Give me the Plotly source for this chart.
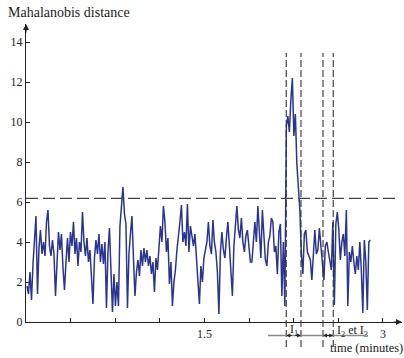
import plotly.graph_objects as go

# ---- data ----
T_START = 0.0084      # minutes, first sample
T_STEP = 0.0126       # minutes between samples
distance = [
    1.8, 1.4, 2.5, 1.1, 2.9, 4.5, 5.3, 1.4, 3.7, 4.6,
    3.4, 4.0, 3.3, 5.0, 5.6, 3.8, 3.3, 4.1, 3.4, 1.3,
    3.2, 4.5, 3.6, 4.4, 2.7, 1.6, 3.0, 4.2, 3.0, 4.5,
    3.8, 5.0, 3.4, 4.2, 2.8, 4.0, 3.5, 5.5, 4.0, 3.3,
    4.2, 3.0, 3.6, 2.4, 0.9, 3.2, 4.1, 3.4, 4.4, 3.0,
    3.9, 2.9, 4.0, 0.7, 3.5, 4.7, 3.0, 0.5, 2.4, 0.8,
    2.0, 0.8, 4.8, 5.6, 6.75, 5.4, 4.9, 0.7, 3.4, 4.4,
    5.3, 3.2, 1.3, 2.5, 3.1, 2.3, 3.6, 2.8, 3.7, 3.0,
    3.6, 2.8, 3.3, 2.4, 3.0, 1.5, 3.2, 2.6, 3.8, 4.8,
    4.0, 5.8, 5.0, 3.5, 4.2, 1.9, 3.0, 0.8, 2.0, 2.6,
    3.6, 4.2, 5.0, 5.85, 4.0, 4.5, 3.8, 5.9, 3.5, 4.8,
    4.2, 3.8, 4.4, 3.2, 2.2, 0.9, 2.8, 2.0, 3.2, 3.6,
    4.0, 5.0, 3.8, 3.4, 5.1, 4.0, 3.5, 2.5, 0.4, 3.5,
    4.5, 3.6, 3.2, 4.2, 5.0, 3.8, 2.5, 1.3, 3.8, 5.0,
    5.8, 4.6, 4.2, 5.2, 4.0, 3.5, 4.3, 4.6, 3.6, 3.0,
    3.0, 4.2, 5.0, 4.0, 5.8, 4.5, 3.2, 5.6, 4.0, 3.1,
    2.8, 4.0, 4.3, 5.2, 5.0, 3.5, 3.8, 2.4, 4.5, 4.9,
    1.3, 4.0, 0.8, 9.8, 10.3, 9.5, 11.1, 12.2, 9.3, 10.4,
    7.9, 6.9, 5.6, 3.4, 2.4, 4.4, 4.6, 3.5, 3.3, 3.1,
    2.1, 3.6, 4.6, 3.4, 3.6, 4.7, 3.8, 2.8, 2.1, 3.8,
    4.0, 3.5, 3.0, 2.6, 5.0, 0.85, 4.9, 5.5, 4.6, 3.1,
    4.0, 4.4, 3.3, 5.6, 0.8, 3.5, 3.0, 3.8, 3.0, 2.4,
    3.3, 2.6, 4.0, 2.6, 0.45, 4.1, 3.0, 0.6, 4.0, 4.1,
]
time = [round(T_START + i * T_STEP, 4) for i in range(len(distance))]

threshold = 6.18
interval_bounds = [2.187, 2.311, 2.496, 2.582]
y_tickvals = [0, 2, 4, 6, 8, 10, 12, 14]
x_tickvals = [0.375, 0.75, 1.125, 1.5, 1.875, 2.25, 2.625, 3.0]
x_ticktext = ["", "", "", "1.5", "", "", "", "3"]
x_max = 3.16
y_max = 14.9

FONT = "Liberation Serif"
INK = "#222222"

fig = go.Figure()
fig.add_trace(go.Scatter(x=time, y=distance, mode="lines",
                         line=dict(color="#2a3590", width=1.5),
                         hoverinfo="skip"))

shapes = []
# threshold
shapes.append(dict(type="line", xref="x", yref="y", x0=0, x1=3.11,
                   y0=threshold, y1=threshold,
                   line=dict(color="#444444", width=1.2, dash="12px,5px")))
# vertical interval bounds
for b in interval_bounds:
    shapes.append(dict(type="line", xref="x", yref="paper", x0=b, x1=b,
                       y0=-0.084, y1=0.903,
                       line=dict(color="#333333", width=1.1, dash="7px,3px")))
# gray underline
shapes.append(dict(type="line", xref="x", yref="paper", x0=2.034, x1=2.857,
                   y0=-0.0453, y1=-0.0453,
                   line=dict(color="#8a8a8a", width=1.5)))

annotations = [
    dict(text="Mahalanobis distance", xref="paper", yref="paper",
         x=-0.053, y=1.037, xanchor="left", yanchor="middle", showarrow=False,
         font=dict(family=FONT, size=14, color=INK)),
    dict(text="time (minutes)", xref="paper", yref="paper",
         x=1.008, y=-0.086, xanchor="right", yanchor="middle", showarrow=False,
         font=dict(family=FONT, size=12.5, color=INK)),
    dict(text="I<sub>1</sub>", xref="x", yref="paper",
         x=(interval_bounds[0] + interval_bounds[1]) / 2, y=-0.027,
         xanchor="center", yanchor="middle", showarrow=False,
         font=dict(family=FONT, size=12, color=INK)),
    dict(text="I<sub>2</sub> et I<sub>3</sub>", xref="x", yref="paper",
         x=2.597, y=-0.029, xanchor="left", yanchor="middle", showarrow=False,
         font=dict(family=FONT, size=12, color=INK)),
    # axis arrowheads
    dict(text="", xref="x", yref="y", x=x_max, y=0, ax=-10, ay=0,
         showarrow=True, arrowhead=2, arrowsize=1, arrowwidth=1.2,
         arrowcolor=INK),
    dict(text="", xref="x", yref="y", x=0, y=y_max, ax=0, ay=10,
         showarrow=True, arrowhead=2, arrowsize=1, arrowwidth=1.2,
         arrowcolor=INK),
]
# small dimension arrowheads on the underline
for b, d in [(interval_bounds[0], 7), (interval_bounds[1], -7),
             (interval_bounds[2], 7), (interval_bounds[3], -7)]:
    annotations.append(dict(text="", xref="x", yref="paper", x=b, y=-0.0453,
                            ax=d, ay=0, showarrow=True, arrowhead=2,
                            arrowsize=0.8, arrowwidth=1, arrowcolor=INK))

fig.update_layout(
    width=404, height=358,
    margin=dict(l=26, r=2, t=24, b=36, pad=0),
    plot_bgcolor="white", paper_bgcolor="white",
    showlegend=False,
    font=dict(family=FONT, size=12, color=INK),
    shapes=shapes, annotations=annotations,
    xaxis=dict(range=[0, x_max], showline=True, linecolor=INK, linewidth=1.2,
               ticks="inside", ticklen=4, tickcolor=INK, tickwidth=1,
               tickvals=x_tickvals, ticktext=x_ticktext,
               showgrid=False, zeroline=False,
               tickfont=dict(family=FONT, size=12, color=INK)),
    yaxis=dict(range=[0, y_max], showline=True, linecolor=INK, linewidth=1.2,
               ticks="inside", ticklen=4, tickcolor=INK, tickwidth=1,
               tickvals=y_tickvals,
               showgrid=False, zeroline=False,
               tickfont=dict(family=FONT, size=12, color=INK)),
)

fig.write_html("out.html")
